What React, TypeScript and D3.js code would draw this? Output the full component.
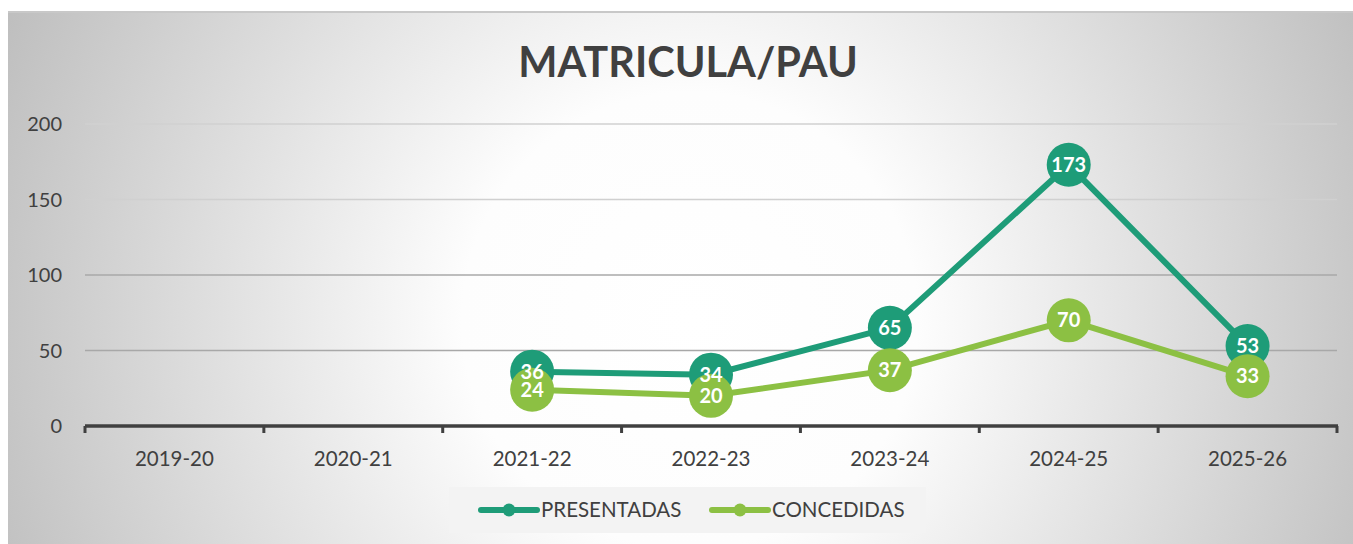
import React from "react";
import { scaleBand, scaleLinear, line } from "d3";

const categories = ["2019-20", "2020-21", "2021-22", "2022-23", "2023-24", "2024-25", "2025-26"];
const presentadas: (number | null)[] = [null, null, 36, 34, 65, 173, 53];
const concedidas: (number | null)[] = [null, null, 24, 20, 37, 70, 33];
const yTicks = [0, 50, 100, 150, 200];

const series = [
  { name: "PRESENTADAS", color: "#1e9c78", values: presentadas },
  { name: "CONCEDIDAS", color: "#8cc043", values: concedidas },
];

const W = 1353;
const H = 544;
const FONT = "Lato, 'Open Sans', sans-serif";
const TXT = "#404040";

export default function App() {
  const x = scaleBand<string>().domain(categories).range([85, 1337]);
  const y = scaleLinear().domain([0, 200]).range([426, 124]);
  const cx = (c: string) => (x(c) ?? 0) + x.bandwidth() / 2;

  const pts = (vals: (number | null)[]) =>
    vals
      .map((v, i) => ({ c: categories[i], v }))
      .filter((d) => d.v !== null) as { c: string; v: number }[];

  const path = line<{ c: string; v: number }>()
    .x((d) => cx(d.c))
    .y((d) => y(d.v));

  return (
    <svg
      width={W}
      height={H}
      style={{ position: "absolute", left: 0, top: 0 }}
      fontFamily={FONT}
    >
      <defs>
        <radialGradient id="bg" gradientUnits="userSpaceOnUse" cx={690} cy={320} r={760}>
          <stop offset="0" stopColor="#ffffff" />
          <stop offset="0.3" stopColor="#fdfdfd" />
          <stop offset="1" stopColor="#bdbdbd" />
        </radialGradient>
      </defs>
      <rect x={0} y={0} width={W} height={H} fill="#ffffff" />
      <rect x={8} y={11} width={W - 8} height={H - 11} fill="url(#bg)" />
      <line x1={8} x2={W} y1={12} y2={12} stroke="#c8c8c8" strokeWidth={2} />

      <text
        x={688}
        y={77}
        textAnchor="middle"
        fontSize={41.5}
        fontWeight="bold"
        fill={TXT}
      >
        MATRICULA/PAU
      </text>

      {yTicks.map((t) => (
        <g key={t}>
          {t > 0 && (
            <line
              x1={85}
              x2={1337}
              y1={y(t)}
              y2={y(t)}
              stroke={t >= 150 ? "#d0d0d0" : "#a8a8a8"}
              strokeWidth={1.3}
            />
          )}
          <text x={62} y={y(t) + 7} textAnchor="end" fontSize={20} fill={TXT}>
            {t}
          </text>
        </g>
      ))}

      <line x1={85} x2={1338} y1={426} y2={426} stroke="#404040" strokeWidth={3.5} />
      {categories.map((c) => (
        <line
          key={"t" + c}
          x1={x(c)}
          x2={x(c)}
          y1={426}
          y2={433}
          stroke="#404040"
          strokeWidth={3}
        />
      ))}
      <line x1={1337} x2={1337} y1={426} y2={433} stroke="#404040" strokeWidth={3} />
      {categories.map((c) => (
        <text key={c} x={cx(c)} y={466} textAnchor="middle" fontSize={20.5} fill={TXT}>
          {c}
        </text>
      ))}

      {series.map((s) => (
        <path
          key={s.name}
          d={path(pts(s.values)) ?? ""}
          fill="none"
          stroke={s.color}
          strokeWidth={6}
        />
      ))}
      {series.map((s) =>
        pts(s.values).map((d) => (
          <circle key={s.name + d.c} cx={cx(d.c)} cy={y(d.v)} r={22} fill={s.color} />
        ))
      )}
      {[...series].reverse().map((s) =>
        pts(s.values).map((d) => (
          <text
            key={"v" + s.name + d.c}
            x={cx(d.c)}
            y={y(d.v) + 7}
            textAnchor="middle"
            fontSize={20}
            fontWeight="bold"
            fill="#ffffff"
          >
            {d.v}
          </text>
        ))
      )}

      <rect x={449} y={487} width={477} height={46} fill="#f3f3f3" />
      {series.map((s, i) => {
        const lx = 481 + i * 231;
        return (
          <g key={"lg" + s.name}>
            <line
              x1={lx}
              x2={lx + 56}
              y1={510}
              y2={510}
              stroke={s.color}
              strokeWidth={6}
              strokeLinecap="round"
            />
            <circle cx={lx + 28} cy={510} r={6.5} fill={s.color} />
            <text x={lx + 60} y={517} fontSize={20.5} fill={TXT}>
              {s.name}
            </text>
          </g>
        );
      })}
    </svg>
  );
}
